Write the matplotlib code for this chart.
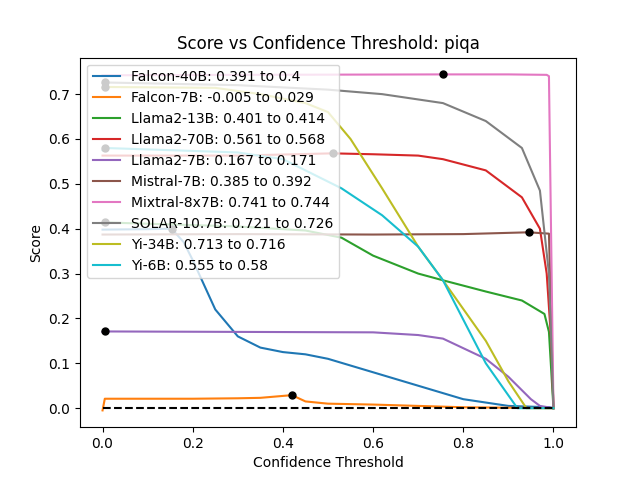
import matplotlib
matplotlib.use("Agg")
import matplotlib.pyplot as plt

names = ["Falcon-40B", "Falcon-7B", "Llama2-13B", "Llama2-70B", "Llama2-7B",
         "Mistral-7B", "Mixtral-8x7B", "SOLAR-10.7B", "Yi-34B", "Yi-6B"]
ranges = ["0.391 to 0.4", "-0.005 to 0.029", "0.401 to 0.414", "0.561 to 0.568",
          "0.167 to 0.171", "0.385 to 0.392", "0.741 to 0.744", "0.721 to 0.726",
          "0.713 to 0.716", "0.555 to 0.58"]

xs = {
    "Falcon-40B": [0, 0.1, 0.153, 0.18, 0.2, 0.25, 0.3, 0.35, 0.4, 0.45, 0.5, 0.6, 0.7, 0.8, 0.9, 0.99, 1.0],
    "Falcon-7B": [0, 0.005, 0.2, 0.3, 0.35, 0.42, 0.45, 0.5, 0.6, 0.7, 0.8, 0.9, 1.0],
    "Llama2-13B": [0, 0.005, 0.3, 0.45, 0.53, 0.6, 0.7, 0.755, 0.85, 0.93, 0.98, 0.99, 1.0],
    "Llama2-70B": [0, 0.3, 0.51, 0.6, 0.7, 0.755, 0.85, 0.93, 0.97, 0.985, 0.995, 1.0],
    "Llama2-7B": [0, 0.005, 0.3, 0.6, 0.7, 0.755, 0.85, 0.9, 0.95, 0.97, 1.0],
    "Mistral-7B": [0, 0.3, 0.6, 0.8, 0.945, 0.99, 1.0],
    "Mixtral-8x7B": [0, 0.3, 0.755, 0.9, 0.985, 0.99, 1.0],
    "SOLAR-10.7B": [0, 0.005, 0.3, 0.5, 0.62, 0.755, 0.85, 0.93, 0.97, 0.99, 1.0],
    "Yi-34B": [0, 0.005, 0.25, 0.35, 0.45, 0.5, 0.55, 0.62, 0.7, 0.755, 0.85, 0.9, 0.94, 1.0],
    "Yi-6B": [0, 0.005, 0.3, 0.4, 0.53, 0.62, 0.7, 0.755, 0.85, 0.92, 1.0],
}
ys = {
    "Falcon-40B": [0.398, 0.399, 0.4, 0.37, 0.33, 0.22, 0.16, 0.135, 0.125, 0.12, 0.11, 0.08, 0.05, 0.02, 0.005, 0.002, 0.0],
    "Falcon-7B": [-0.005, 0.021, 0.021, 0.022, 0.023, 0.029, 0.015, 0.01, 0.008, 0.005, 0.002, 0.001, 0.0],
    "Llama2-13B": [0.41, 0.414, 0.405, 0.396, 0.38, 0.34, 0.30, 0.285, 0.26, 0.24, 0.21, 0.17, 0.0],
    "Llama2-70B": [0.563, 0.563, 0.568, 0.566, 0.563, 0.555, 0.53, 0.47, 0.40, 0.30, 0.15, 0.0],
    "Llama2-7B": [0.17, 0.171, 0.17, 0.169, 0.163, 0.155, 0.11, 0.07, 0.02, 0.005, 0.0],
    "Mistral-7B": [0.387, 0.388, 0.387, 0.388, 0.392, 0.389, 0.0],
    "Mixtral-8x7B": [0.742, 0.743, 0.744, 0.744, 0.743, 0.74, 0.0],
    "SOLAR-10.7B": [0.724, 0.726, 0.72, 0.71, 0.70, 0.68, 0.64, 0.58, 0.485, 0.3, 0.0],
    "Yi-34B": [0.714, 0.716, 0.714, 0.70, 0.68, 0.66, 0.60, 0.49, 0.36, 0.285, 0.15, 0.06, 0.0, 0.0],
    "Yi-6B": [0.575, 0.58, 0.57, 0.555, 0.49, 0.43, 0.36, 0.285, 0.1, 0.0, 0.0],
}
best_x = [0.153, 0.42, 0.005, 0.51, 0.005, 0.945, 0.755, 0.005, 0.005, 0.005]
best_y = [0.4, 0.029, 0.414, 0.568, 0.171, 0.392, 0.744, 0.726, 0.716, 0.58]

fig, ax = plt.subplots(figsize=(6.4, 4.8), dpi=100)
for i, n in enumerate(names):
    ax.plot(xs[n], ys[n], label=f"{n}: {ranges[i]}")
for bx, by in zip(best_x, best_y):
    ax.plot(bx, by, "o", color="black", markersize=5)
ax.plot([0, 1], [0, 0], "k--")
ax.set_title("Score vs Confidence Threshold: piqa")
ax.set_xlabel("Confidence Threshold")
ax.set_ylabel("Score")
ax.legend(loc="upper left")
fig.savefig("out.png")
